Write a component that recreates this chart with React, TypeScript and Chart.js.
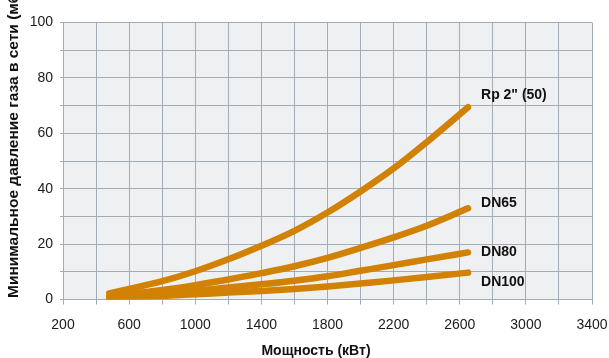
import React, { useEffect, useRef } from "react";
import { Chart, registerables } from "chart.js";

Chart.register(...registerables);

const powerKW = [480, 600, 800, 1000, 1200, 1400, 1600, 1800, 2000, 2200, 2400, 2650];
const rp2 = [2.2, 3.8, 6.6, 10.2, 14.5, 19.4, 24.8, 31.4, 39.0, 47.3, 56.8, 69.4];
const dn65 = [1.1, 2.0, 3.4, 5.2, 7.2, 9.5, 12.0, 15.0, 18.6, 22.4, 26.6, 32.9];
const dn80 = [0.7, 1.3, 2.2, 3.2, 4.3, 5.5, 6.8, 8.4, 10.4, 12.4, 14.5, 17.0];
const dn100 = [0.4, 0.8, 1.3, 1.9, 2.5, 3.1, 3.8, 4.7, 5.8, 6.9, 8.1, 9.7];
const seriesNames = ['Rp 2" (50)', "DN65", "DN80", "DN100"];
const xTitle = "Мощность (кВт)";
const yTitle = "Минимальное давление газа в сети (мбар)";

const LINE = "#d18103";
const GRID = "#a3acb5";
const FONT = "'Liberation Sans', Arial, Helvetica, sans-serif";
const labelDy = [-12, -5, 0, 10];

export default function App() {
  const ref = useRef<HTMLCanvasElement | null>(null);
  useEffect(() => {
    document.body.style.margin = "0";
    const canvas = ref.current!;
    const series = [rp2, dn65, dn80, dn100];
    const bgPlugin = {
      id: "bg",
      beforeDraw(chart: any) {
        const { ctx, chartArea: a } = chart;
        ctx.save();
        ctx.fillStyle = "#eff0f2";
        ctx.fillRect(a.left, a.top, a.right - a.left, a.bottom - a.top);
        ctx.restore();
      },
    };
    const textPlugin = {
      id: "texts",
      afterDraw(chart: any) {
        const { ctx } = chart;
        ctx.save();
        ctx.fillStyle = "#111";
        ctx.font = `bold 14px ${FONT}`;
        ctx.textBaseline = "middle";
        ctx.textAlign = "center";
        ctx.fillText(xTitle, 316, 351);
        ctx.save();
        ctx.translate(14, 298);
        ctx.rotate(-Math.PI / 2);
        ctx.textAlign = "left";
        ctx.font = `bold 15.5px ${FONT}`;
        ctx.fillText(yTitle, 0, 0);
        ctx.restore();
        ctx.font = `bold 14px ${FONT}`;
        ctx.textAlign = "left";
        const xs = chart.scales.x;
        const ys = chart.scales.y;
        series.forEach((s, i) => {
          const px = xs.getPixelForValue(powerKW[powerKW.length - 1]) + 13;
          const py = ys.getPixelForValue(s[s.length - 1]) + labelDy[i];
          ctx.fillText(seriesNames[i], px, py);
        });
        ctx.restore();
      },
    };
    const chart = new Chart(canvas, {
      type: "line",
      data: {
        datasets: series.map((s, i) => ({
          label: seriesNames[i],
          data: powerKW.map((x, j) => ({ x, y: s[j] })),
          borderColor: LINE,
          backgroundColor: LINE,
          borderWidth: 6.5,
          borderCapStyle: "round",
          borderJoinStyle: "round",
          pointRadius: 0,
          cubicInterpolationMode: "monotone",
          clip: 0,
        })),
      },
      options: {
        responsive: false,
        animation: false,
        layout: { padding: { top: 22.5, right: 17, left: 0, bottom: 0 } },
        plugins: { legend: { display: false }, tooltip: { enabled: false } },
        scales: {
          x: {
            type: "linear",
            min: 200,
            max: 3400,
            afterFit: (s: any) => {
              s.height = 58.5;
              s.paddingLeft = 0;
              s.paddingRight = 0;
            },
            grid: { color: GRID, tickLength: 5, lineWidth: 1 },
            border: { color: GRID },
            ticks: {
              stepSize: 200,
              autoSkip: false,
              maxRotation: 0,
              padding: 12,
              color: "#1a1a1a",
              font: { family: FONT, size: 14 },
              callback: (v: any) => ((v - 200) % 400 === 0 ? String(v) : ""),
            },
          },
          y: {
            min: 0,
            max: 100,
            afterFit: (s: any) => {
              s.width = 63;
              s.paddingTop = 0;
              s.paddingBottom = 0;
            },
            grid: { color: GRID, tickLength: 3, lineWidth: 1 },
            border: { color: GRID },
            ticks: {
              stepSize: 10,
              autoSkip: false,
              padding: 7,
              color: "#1a1a1a",
              font: { family: FONT, size: 14 },
              callback: (v: any) => (v % 20 === 0 ? String(v) : ""),
            },
          },
        },
      },
      plugins: [bgPlugin, textPlugin],
    } as any);
    return () => chart.destroy();
  }, []);
  return (
    <div style={{ width: 609, height: 358 }}>
      <canvas ref={ref} width={609} height={358} />
    </div>
  );
}
